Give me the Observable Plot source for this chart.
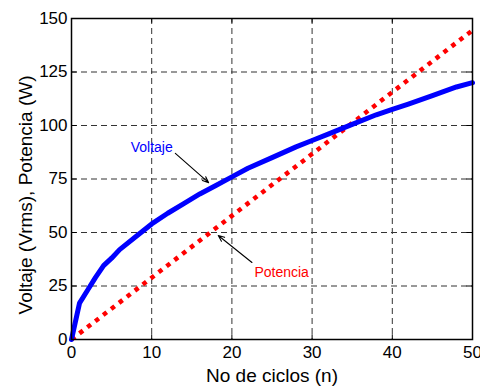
<!DOCTYPE html>
<html>
<head>
<meta charset="utf-8">
<script src="https://cdn.jsdelivr.net/npm/d3@7"></script>
<script src="https://cdn.jsdelivr.net/npm/@observablehq/plot@0.6"></script>
<style>
  html, body { margin: 0; padding: 0; background: #fff; }
  svg { display: block; }
</style>
</head>
<body>
<div id="chart"></div>
<script>
const ciclosV = [0, 1, 2, 3, 4, 5, 6, 8, 10, 12, 14, 16, 18, 20, 22, 25, 28, 30, 32, 35, 38, 40, 42, 45, 48, 50];
const voltaje = [0, 17, 23, 29, 34.5, 38, 42, 48, 54, 59, 63.5, 68, 72, 76, 80, 85, 90, 93, 96, 100.5, 105, 107.5, 110, 114, 118, 120];
const ciclosP = [0, 50];
const potencia = [0, 144.5];
const xTicks = [0, 10, 20, 30, 40, 50];
const yTicks = [0, 25, 50, 75, 100, 125, 150];
const labels = [
  {text: "Voltaje", x: 10, y: 89.5, color: "#0000ff"},
  {text: "Potencia", x: 26.2, y: 31.5, color: "#ff0000"}
];
const arrows = [
  {x1: 12.95, y1: 87, x2: 17.1, y2: 73.3},
  {x1: 22.5, y1: 36, x2: 18.3, y2: 48.6}
];

const vData = ciclosV.map((n, i) => ({n, v: voltaje[i]}));
const pData = ciclosP.map((n, i) => ({n, p: potencia[i]}));
const font = "'Liberation Sans', Arial, sans-serif";

const chart = Plot.plot({
  width: 480,
  height: 387,
  marginLeft: 71,
  marginRight: 8,
  marginTop: 18,
  marginBottom: 48,
  style: {fontFamily: font, fontSize: "17px", background: "#fff", color: "#000"},
  x: {domain: [0, 50], ticks: xTicks, tickSize: 0, tickPadding: 6, label: null},
  y: {domain: [0, 150], ticks: yTicks, tickSize: 0, tickPadding: 4, label: null},
  marks: [
    Plot.ruleX(xTicks.slice(1, -1), {stroke: "#333", strokeWidth: 1, strokeDasharray: "6,4"}),
    Plot.ruleY(yTicks.slice(1, -1), {stroke: "#333", strokeWidth: 1, strokeDasharray: "6,4"}),
    Plot.ruleX(xTicks, {y1: 0, y2: 2.2, stroke: "#000"}),
    Plot.ruleX(xTicks, {y1: 147.8, y2: 150, stroke: "#000"}),
    Plot.ruleY(yTicks, {x1: 0, x2: 0.7, stroke: "#000"}),
    Plot.ruleY(yTicks, {x1: 49.3, x2: 50, stroke: "#000"}),
    Plot.line(pData, {x: "n", y: "p", stroke: "#ff0000", strokeWidth: 4.5, strokeDasharray: "4.5,5.5", strokeLinecap: "butt"}),
    Plot.line(vData, {x: "n", y: "v", stroke: "#0000ff", strokeWidth: 5, strokeLinejoin: "round"}),
    Plot.arrow(arrows, {x1: "x1", y1: "y1", x2: "x2", y2: "y2", stroke: "#000", strokeWidth: 1.1, headLength: 9, headAngle: 45}),
    Plot.text(labels, {x: "x", y: "y", text: "text", fill: "color", fontSize: 14}),
    Plot.frame({stroke: "#000", strokeWidth: 1.5}),
    Plot.axisX({ticks: xTicks, tickSize: 0, tickPadding: 6, fontSize: 17, label: null}),
    Plot.axisY({ticks: yTicks, tickSize: 0, tickPadding: 4, fontSize: 17, label: null}),
    Plot.text(["No de ciclos (n)"], {frameAnchor: "bottom", dy: 36, fontSize: 19, lineAnchor: "middle"}),
    Plot.text(["Voltaje (Vrms), Potencia (W)"], {frameAnchor: "left", dx: -46, dy: 16, rotate: -90, fontSize: 19, textAnchor: "middle", lineAnchor: "middle"})
  ]
});
document.getElementById("chart").appendChild(chart);
</script>
</body>
</html>
